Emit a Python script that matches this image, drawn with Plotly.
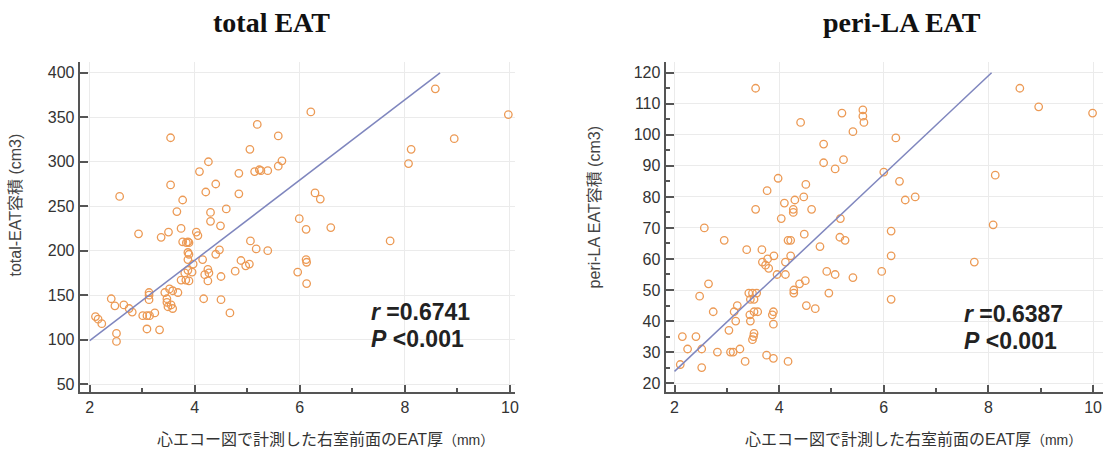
import plotly.graph_objects as go

# ---- data: total EAT ----
total_x = [2.57, 3.54, 3.54, 2.93, 3.36, 3.50, 3.77, 3.66, 3.74, 3.77, 3.87, 3.87, 4.03, 4.06,
           4.09, 4.26, 4.21, 4.40, 4.30, 4.30, 4.49, 4.60, 4.84, 4.84, 5.05, 5.19, 5.14, 5.23,
           5.26, 5.39, 5.59, 5.59, 5.66, 5.06, 5.17, 5.39, 5.99, 6.12, 6.21, 8.58, 9.97, 8.94,
           8.12, 8.07, 6.29, 6.39, 6.59, 7.72, 6.12, 5.04, 6.13, 5.96, 6.13,
           2.41, 2.48, 2.65, 2.75, 2.81, 2.11, 2.16, 2.23, 2.51, 2.51, 3.01, 3.09, 3.14, 3.24,
           3.09, 3.33, 3.13, 3.13, 3.13, 3.43, 3.52, 3.58, 3.68, 3.47, 3.47, 3.49, 3.58, 3.55,
           3.74, 3.83, 3.89, 3.81, 3.87, 3.95, 3.87, 3.89, 3.84, 3.89, 3.97, 4.15, 4.25, 4.27,
           4.25, 4.19, 4.40, 4.47, 4.17, 4.50, 4.50, 4.67, 4.77, 4.88, 4.97]
total_y = [261, 327, 274, 219, 215, 221, 257, 244, 225, 210, 210, 198, 221, 217,
           289, 300, 266, 275, 243, 233, 228, 247, 287, 264, 314, 342, 289, 291,
           290, 290, 329, 295, 301, 211, 202, 200, 236, 224, 356, 382, 353, 326,
           314, 298, 265, 258, 226, 211, 190, 185, 187, 176, 163,
           146, 138, 139, 135, 131, 126, 123, 118, 107, 98, 127, 127, 127, 130,
           112, 111, 153, 150, 145, 153, 157, 155, 153, 146, 142, 137, 135, 139,
           167, 167, 166, 175, 178, 176, 190, 196, 209, 209, 185, 190, 179, 175,
           166, 173, 196, 201, 146, 171, 145, 130, 177, 189, 183]
total_fit_x = [2.0, 8.67]
total_fit_y = [99, 400]

# ---- data: peri-LA EAT ----
la_x = [3.55, 4.41, 5.20, 4.85, 4.85, 5.07, 5.23, 3.98, 3.77, 3.55, 4.10, 4.30, 4.27, 4.27,
        4.47, 4.51, 4.62, 4.04, 4.48, 5.17, 5.16, 5.26, 4.78, 2.57, 2.95, 3.38, 3.67, 4.17,
        4.22, 8.60, 8.96, 9.99, 5.60, 5.60, 5.62, 5.41, 6.23, 6.00, 6.30, 8.13, 6.41, 6.60,
        6.14, 8.09, 6.14, 7.73, 4.91, 5.07, 5.41, 5.96, 6.14, 4.95,
        3.68, 3.78, 3.74, 3.80, 3.90, 4.12, 4.22, 4.12, 3.96, 4.52, 4.69, 4.39, 4.50, 4.28,
        4.28, 2.65, 2.48, 2.74, 2.15, 2.41, 2.25, 2.52, 2.11, 2.52, 2.82, 3.04, 3.07, 3.12,
        3.25, 3.35, 3.14, 3.20, 3.17, 3.42, 3.49, 3.57, 3.45, 3.52, 3.44, 3.52, 3.59, 3.45,
        3.52, 3.51, 3.49, 3.76, 3.89, 3.89, 3.87, 3.89, 4.17]
la_y = [115, 104, 107, 97, 91, 89, 92, 86, 82, 76, 78, 79, 76, 75,
        80, 84, 76, 73, 68, 73, 67, 66, 64, 70, 66, 63, 63, 66,
        66, 115, 109, 107, 108, 106, 104, 101, 99, 88, 85, 87, 79, 80,
        69, 71, 61, 59, 56, 55, 54, 56, 47, 49,
        59, 60, 58, 57, 61, 59, 61, 55, 55, 45, 44, 52, 53, 50,
        49, 52, 48, 43, 35, 35, 31, 31, 26, 25, 30, 37, 30, 30,
        31, 27, 43, 45, 40, 49, 49, 49, 47, 47, 42, 43, 43, 40,
        36, 35, 34, 29, 28, 43, 42, 39, 27]
la_fit_x = [2.0, 8.06]
la_fit_y = [23.8, 120]

x_ticks = [2, 4, 6, 8, 10]
total_y_ticks = [50, 100, 150, 200, 250, 300, 350, 400]
la_y_ticks = [20, 30, 40, 50, 60, 70, 80, 90, 100, 110, 120]

MARK = "#EC9A55"
LINE = "#7F86BE"
AX = "#555555"
GRID = "#EBEBEB"
FONT = "Liberation Sans, Arial, Noto Sans CJK JP, sans-serif"

fig = go.Figure()
fig.add_trace(go.Scatter(x=total_x, y=total_y, mode="markers", xaxis="x", yaxis="y",
                         marker=dict(symbol="circle-open", size=7.5, color=MARK, line=dict(width=1.3)),
                         showlegend=False))
fig.add_trace(go.Scatter(x=total_fit_x, y=total_fit_y, mode="lines", xaxis="x", yaxis="y",
                         line=dict(color=LINE, width=1.5), showlegend=False))
fig.add_trace(go.Scatter(x=la_x, y=la_y, mode="markers", xaxis="x2", yaxis="y2",
                         marker=dict(symbol="circle-open", size=7.5, color=MARK, line=dict(width=1.3)),
                         showlegend=False))
fig.add_trace(go.Scatter(x=la_fit_x, y=la_fit_y, mode="lines", xaxis="x2", yaxis="y2",
                         line=dict(color=LINE, width=1.5), showlegend=False))

def xax(domain, anchor, rng):
    return dict(domain=domain, anchor=anchor, range=rng, tickvals=x_ticks,
                showline=True, linecolor=AX, linewidth=2, ticks="inside", ticklen=7,
                tickcolor=AX, tickwidth=1.5, showgrid=True, gridcolor=GRID, zeroline=False,
                tickfont=dict(family=FONT, size=16, color="#333"),
                minor=dict(ticks="inside", ticklen=4, dtick=1, tick0=0, tickcolor=AX, showgrid=False))

def yax(domain, anchor, rng, vals, minor=None):
    d = dict(domain=domain, anchor=anchor, range=rng, tickvals=vals,
             showline=True, linecolor=AX, linewidth=2, ticks="inside", ticklen=8,
             tickcolor=AX, tickwidth=1.5, showgrid=True, gridcolor=GRID, zeroline=False,
             tickfont=dict(family=FONT, size=16, color="#333"))
    if minor:
        d["minor"] = minor
    return d

ydom = [1 - 393 / 459, 1 - 62 / 459]
fig.update_layout(
    width=1117, height=459, margin=dict(l=0, r=0, t=0, b=0),
    paper_bgcolor="white", plot_bgcolor="white",
    xaxis=xax([80 / 1117, 517 / 1117], "y", [1.81, 10.1]),
    yaxis=yax(ydom, "x", [41.0, 412.3], total_y_ticks),
    xaxis2=xax([668 / 1117, 1107 / 1117], "y2", [1.83, 10.19]),
    yaxis2=yax(ydom, "x2", [17.1, 123.5], la_y_ticks,
               minor=dict(ticks="inside", ticklen=4, dtick=5, tick0=0, tickcolor=AX, showgrid=False)),
)

ann = []
for txt, cx in [("<b>total EAT</b>", 272), ("<b>peri-LA EAT</b>", 905)]:
    ann.append(dict(text=txt, x=cx / 1117, y=1 - 23 / 459, xref="paper", yref="paper",
                    xanchor="center", yanchor="middle", showarrow=False,
                    font=dict(family="Liberation Serif, serif", size=28, color="#111")))
xt = "心エコー図で計測した右室前面のEAT厚<span style='font-size:14px'>（mm）</span>"
for rx in [498, 1088]:
    ann.append(dict(text=xt, x=rx / 1117, y=1 - 440 / 459, xref="paper", yref="paper",
                    xanchor="right", yanchor="middle", showarrow=False,
                    font=dict(family=FONT, size=16, color="#333")))
ann.append(dict(text="total-EAT容積 (cm3)", x=16 / 1117, y=1 - 205 / 459, xref="paper", yref="paper",
                xanchor="center", yanchor="middle",
                textangle=-90, showarrow=False, font=dict(family=FONT, size=16, color="#444")))
ann.append(dict(text="peri-LA EAT容積 (cm3)", x=597 / 1117, y=1 - 208 / 459, xref="paper", yref="paper",
                xanchor="center", yanchor="middle",
                textangle=-90, showarrow=False, font=dict(family=FONT, size=16, color="#444")))
for txt, x, y, xr, yr in [("<b><i>r</i> =0.6741</b>", 7.32, 130.8, "x", "y"),
                          ("<b><i>P</i> <0.001</b>", 7.32, 100.5, "x", "y"),
                          ("<b><i>r</i> =0.6387</b>", 7.49, 42.4, "x2", "y2"),
                          ("<b><i>P</i> <0.001</b>", 7.49, 33.5, "x2", "y2")]:
    ann.append(dict(text=txt, x=x, y=y, xref=xr, yref=yr, xanchor="left", yanchor="middle",
                    showarrow=False, font=dict(family=FONT, size=23, color="#222")))
fig.update_layout(annotations=ann)

fig.write_html("out.html")
